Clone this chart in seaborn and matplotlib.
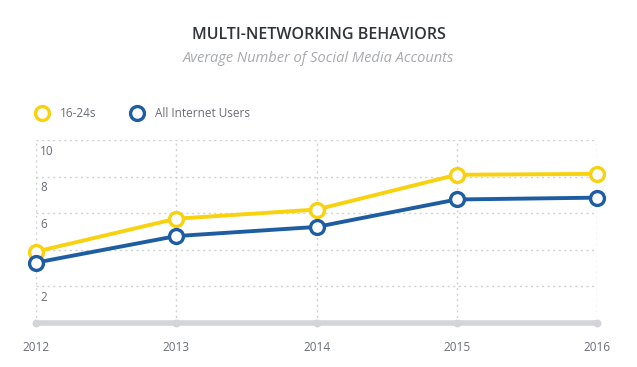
import numpy as np
import pandas as pd
import matplotlib
matplotlib.use('Agg')
import matplotlib.pyplot as plt
import seaborn as sns

years = [2012, 2013, 2014, 2015, 2016]
young = [3.9, 5.7, 6.2, 8.1, 8.15]
all_users = [3.3, 4.75, 5.25, 6.75, 6.85]
series_names = ['16-24s', 'All Internet Users']
ytick_vals = [2, 6, 8, 10]

yellow = '#f8d10f'
blue = '#1f5da2'
grid_c = '#cfd1d5'
text_c = '#6a6e75'

df = pd.DataFrame({
    'year': years * 2,
    'value': young + all_users,
    'group': [series_names[0]] * len(years) + [series_names[1]] * len(years),
})

sns.set_style('white')
plt.rcParams['font.family'] = ['Open Sans', 'DejaVu Sans']

fig = plt.figure(figsize=(6.37, 3.67), dpi=100)
ax = fig.add_axes([36 / 637, 44 / 367, 561 / 637, 183 / 367])

sns.lineplot(data=df, x='year', y='value', hue='group',
             palette=[yellow, blue], linewidth=2.8, marker='o',
             markersize=10, markerfacecolor='white', markeredgewidth=2.4,
             legend=False, ax=ax, clip_on=False, zorder=5)
for ln in ax.lines:
    ln.set_markeredgecolor(ln.get_color())

ax.set_xlim(2012, 2016)
ax.set_ylim(0, 10)

# dotted grid
for v in [2, 4, 6, 8, 10]:
    ax.axhline(v, color=grid_c, lw=1, ls=(0, (1.5, 2.5)), zorder=0)
for yr in years:
    ax.axvline(yr, color=grid_c, lw=1, ls=(0, (1.5, 2.5)), zorder=0)

for s in ['top', 'right', 'left']:
    ax.spines[s].set_visible(False)
ax.spines['bottom'].set_color('#d3d5d9')
ax.spines['bottom'].set_linewidth(4)
ax.spines['bottom'].set_capstyle('round')
ax.scatter(years, [0] * len(years), s=22, color='#d3d5d9', marker='o',
           clip_on=False, zorder=4)

ax.set_xticks(years)
ax.set_xticklabels([str(y) for y in years])
ax.tick_params(axis='x', length=0, pad=13, labelsize=8.5, labelcolor=text_c)
ax.set_yticks([])
ax.set_xlabel('')
ax.set_ylabel('')

for v in ytick_vals:
    ax.annotate(str(v), xy=(0, v), xycoords=('axes fraction', 'data'),
                xytext=(3, -3.5), textcoords='offset points',
                ha='left', va='top', fontsize=8.5, color=text_c)

fig.text(0.5, 1 - 35 / 367, 'MULTI-NETWORKING BEHAVIORS', ha='center',
         va='center', fontsize=11.5, color='#2f343b', fontweight='semibold')
fig.text(0.5, 1 - 59 / 367, 'Average Number of Social Media Accounts',
         ha='center', va='center', fontsize=10.5, color='#a8aaae',
         style='italic')

handles = [plt.Line2D([], [], ls='none', marker='o', markersize=10,
                      markerfacecolor='white', markeredgecolor=c,
                      markeredgewidth=2.4) for c in [yellow, blue]]
fig.legend(handles, series_names, loc='center left',
           bbox_to_anchor=(24 / 637, 1 - 114 / 367), ncol=2, frameon=False,
           handletextpad=0.95, columnspacing=2.8, handlelength=1.2,
           labelcolor=text_c, prop={'size': 8.5})

fig.savefig('out.png', dpi=100)
